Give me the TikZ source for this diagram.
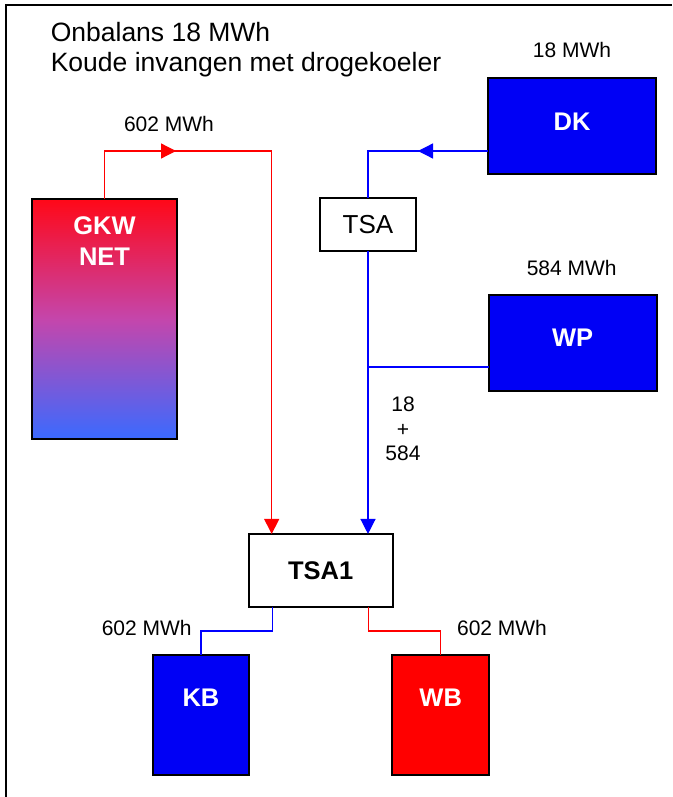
\documentclass[tikz,border=0pt]{standalone}
\usepackage{fontspec}
\setmainfont{Liberation Sans}
\usetikzlibrary{arrows.meta}
\definecolor{boxblue}{RGB}{0,0,245}
\definecolor{boxred}{RGB}{255,0,0}
\definecolor{lineblue}{RGB}{0,0,255}
\definecolor{linered}{RGB}{255,0,0}
\definecolor{gkwtop}{RGB}{255,8,24}
\definecolor{gkwmid}{RGB}{196,70,172}
\definecolor{gkwbot}{RGB}{58,106,255}
\begin{document}
\begin{tikzpicture}[x=1pt,y=-1pt,
  box/.style={draw=black,line width=2pt,inner sep=0pt,outer sep=0pt},
  bluebox/.style={box,fill=boxblue},
  redbox/.style={box,fill=boxred},
  whitebox/.style={box,fill=white},
  bigtext/.style={font=\fontsize{26.5}{30}\selectfont,inner sep=0pt,anchor=base west},
  smalltext/.style={font=\fontsize{21}{24.3}\selectfont,inner sep=0pt},
  boxtext/.style={font=\fontsize{25.5}{30.7}\selectfont\bfseries,text=white,inner sep=0pt,align=center},
  bl/.style={draw=lineblue,line width=1.3pt},
  rl/.style={draw=linered,line width=1.3pt},
  tipend/.style={-{Triangle[length=15pt,width=15pt]}}
]
\useasboundingbox (0,0) rectangle (672,797);
\fill[white] (0,0) rectangle (672,797);
% frame (left and top edges)
\draw[line width=2pt] (6,797) -- (6,5) -- (672,5);

% title
\node[bigtext] (title1) at (50.6,41.7) {Onbalans 18 MWh};
\node[bigtext] (title2) at (50.6,71.7) {Koude invangen met drogekoeler};

% boxes
\node[box,top color=gkwtop,bottom color=gkwbot,middle color=gkwmid,minimum width=144.4pt,minimum height=240pt] (gkw) at (104.5,319.3) {};
\node[boxtext] (gkwtext) at (104.5,241.4) {GKW\\NET};

\node[whitebox,minimum width=96.5pt,minimum height=52.4pt,font=\fontsize{26}{30}\selectfont] (tsa) at (368,224.5) {TSA};

\node[bluebox,minimum width=168pt,minimum height=96pt] (dk) at (572,126.3) {};
\node[boxtext] (dktext) at (572,121.7) {DK};

\node[bluebox,minimum width=168pt,minimum height=96pt] (wp) at (572.7,343) {};
\node[boxtext] (wptext) at (572.7,337.3) {WP};

\node[whitebox,minimum width=144pt,minimum height=72.7pt,font=\fontsize{25.5}{30}\selectfont\bfseries] (tsa1) at (320.7,570.3) {TSA1};

\node[bluebox,minimum width=96.6pt,minimum height=120.3pt] (kb) at (201,715.2) {};
\node[boxtext] (kbtext) at (201,697.7) {KB};

\node[redbox,minimum width=96.7pt,minimum height=120.3pt] (wb) at (440.7,715.2) {};
\node[boxtext] (wbtext) at (440.7,697.7) {WB};

% labels
\node[smalltext,anchor=base] (l602top) at (169,131.7) {602 MWh};
\node[smalltext,anchor=base] (l18) at (572,57.3) {18 MWh};
\node[smalltext,anchor=base] (l584) at (571.7,275.7) {584 MWh};
\node[smalltext,align=center] (lsum) at (403,429) {18\\+\\584};
\node[smalltext,anchor=base] (l602kb) at (146.7,635) {602 MWh};
\node[smalltext,anchor=base] (l602wb) at (502,635) {602 MWh};

% connector coordinates
\coordinate (r1) at (271.7,151);
\coordinate (rmid) at (176,151);
\coordinate (b1) at (368,151);
\coordinate (bmid) at (418,151);
\coordinate (j) at (368,367);
\coordinate (kbc) at (272.7,631);
\coordinate (wbc) at (368.7,631);

% red supply from GKW
\draw[rl,tipend] (gkw.north) |- (r1) -- (r1 |- tsa1.north);
\draw[rl,tipend] (gkw.north |- r1) -- (rmid);

% blue from DK via TSA
\draw[bl] (dk.west |- b1) -- (b1) -- (tsa.north);
\draw[bl,tipend] (dk.west |- b1) -- (bmid);
\draw[bl,tipend] (tsa.south) -- (tsa.south |- tsa1.north);
\draw[bl] (wp.west |- j) -- (j);

% to KB and WB
\draw[bl] (kbc |- tsa1.south) -- (kbc) -| (kb.north);
\draw[rl] (wbc |- tsa1.south) -- (wbc) -| (wb.north);
\end{tikzpicture}
\end{document}
